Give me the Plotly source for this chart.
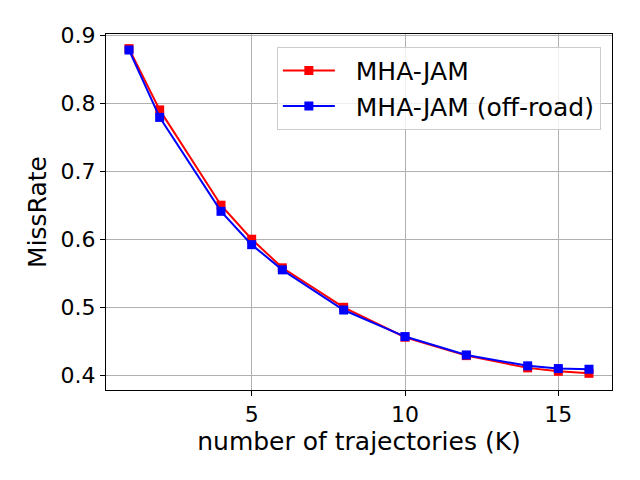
import plotly.graph_objects as go

k_values = [1, 2, 4, 5, 6, 8, 10, 12, 14, 15, 16]
miss_rate_mha_jam = [0.880, 0.790, 0.650, 0.600, 0.558, 0.500, 0.456, 0.429, 0.411, 0.406, 0.403]
miss_rate_off_road = [0.878, 0.779, 0.641, 0.592, 0.555, 0.496, 0.457, 0.430, 0.414, 0.410, 0.409]
x_ticks = [5, 10, 15]
y_ticks = [0.4, 0.5, 0.6, 0.7, 0.8, 0.9]

font = "DejaVu Sans"

fig = go.Figure()
for name, values, colour in [("MHA-JAM", miss_rate_mha_jam, "#ff0000"),
                             ("MHA-JAM (off-road)", miss_rate_off_road, "#0000ff")]:
    # two leading spaces give the gap between legend line and text that matplotlib leaves
    fig.add_trace(go.Scatter(x=k_values, y=values, name="  " + name, mode="lines+markers",
                             line=dict(color=colour, width=2),
                             marker=dict(symbol="square", size=9, color=colour)))

axis_style = dict(showline=True, mirror=True, linecolor="black", linewidth=1,
                  ticks="outside", ticklen=5, tickcolor="black", automargin=False,
                  showgrid=True, gridcolor="#b0b0b0", gridwidth=1, zeroline=False,
                  tickfont=dict(family=font, size=22, color="black"))

fig.update_xaxes(range=[0.25, 16.75], tickvals=x_ticks,
                 title=dict(text="number of trajectories (K)", standoff=6,
                            font=dict(family=font, size=25, color="black")),
                 **axis_style)
fig.update_yaxes(range=[0.3785, 0.9015], tickvals=y_ticks, tickformat=".1f",
                 title=dict(text="MissRate", standoff=6,
                            font=dict(family=font, size=25, color="black")),
                 **axis_style)

# the page puts the figure 8px in from the top left corner, so the margins allow for that
fig.update_layout(width=640, height=480,
                  margin=dict(l=98, r=36, t=26, b=98),
                  paper_bgcolor="white", plot_bgcolor="white",
                  showlegend=True,
                  legend=dict(x=0.978, y=0.964, xanchor="right", yanchor="top",
                              bgcolor="rgba(255,255,255,0.8)", bordercolor="#cccccc",
                              borderwidth=1, itemwidth=52,
                              font=dict(family=font, size=25, color="black")))

fig.write_html("out.html")
